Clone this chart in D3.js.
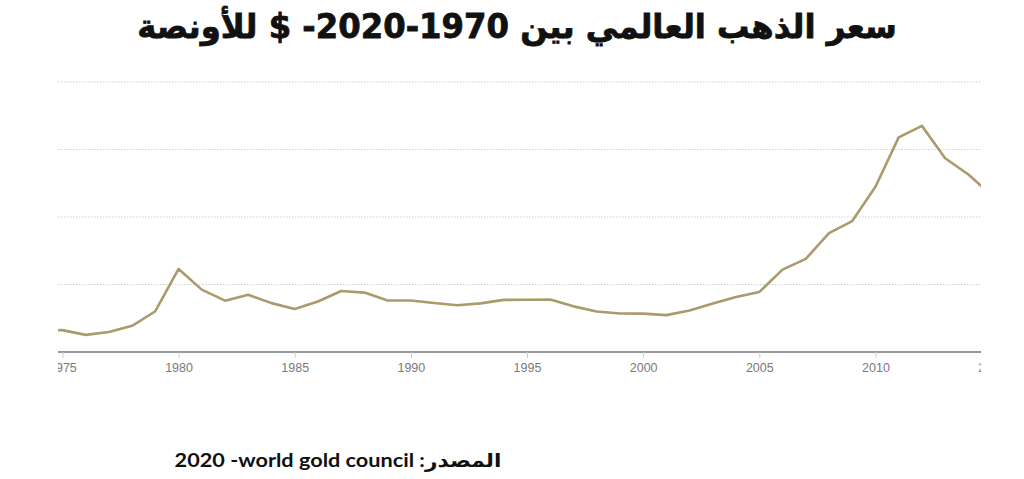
<!DOCTYPE html>
<html><head><meta charset="utf-8">
<script src="https://cdn.jsdelivr.net/npm/d3@7/dist/d3.min.js"></script>
<style>
html,body{margin:0;padding:0;background:#fff;}
svg{display:block;}
</style></head>
<body>
<svg id="chart" width="1024" height="479"></svg>
<script>
const titleText = "سعر الذهب العالمي بين 1970\u200F-2020\u200F-  $ للأونصة";
const sourceText = "المصدر: world gold council\u200F- 2020";
const years = [1974,1975,1976,1977,1978,1979,1980,1981,1982,1983,1984,1985,1986,1987,1988,1989,1990,1991,1992,1993,1994,1995,1996,1997,1998,1999,2000,2001,2002,2003,2004,2005,2006,2007,2008,2009,2010,2011,2012,2013,2014,2015];
const prices = [159,162,127,148,194,302,615,462,380,424,362,318,374,452,440,381,381,363,346,360,386,387,388,338,300,285,284,273,308,360,408,445,610,690,880,970,1224,1590,1675,1435,1315,1160];
const tickYears = [1975,1980,1985,1990,1995,2000,2005,2010,2015];
const gridValues = [500,1000,1500,2000];

const svg = d3.select("#chart");
const left = 58, right = 981, baseY = 352;
const x = d3.scaleLinear().domain([1974.81, 2014.5]).range([left, 980]);
const y = d3.scaleLinear().domain([0, 2000]).range([baseY, 82]);

const defs = svg.append("defs");
defs.append("clipPath").attr("id","clip").append("rect")
  .attr("x", left).attr("y", 0).attr("width", right-left).attr("height", 479);

const g = svg.append("g").attr("clip-path","url(#clip)");

// gridlines
g.append("g").selectAll("line").data(gridValues).join("line")
  .attr("x1", left).attr("x2", right)
  .attr("y1", d => y(d)).attr("y2", d => y(d))
  .attr("stroke", "#cfcfcf").attr("stroke-width", 1)
  .attr("stroke-dasharray", "1.5,1.5");

// x axis
const xAxis = d3.axisBottom(x).tickValues(tickYears).tickFormat(d3.format("d")).tickSize(6).tickSizeOuter(0);
const ax = g.append("g").attr("transform", `translate(0,${baseY})`).call(xAxis);
ax.select(".domain").attr("stroke", "#999").attr("stroke-width", 2)
  .attr("d", `M${left},0H${right}`);
ax.selectAll(".tick line").attr("stroke", "#ccc").attr("stroke-width", 1);
ax.selectAll(".tick text").attr("fill", "#7a7a7a")
  .style("font-family", "'Liberation Sans', Arial, sans-serif").style("font-size", "12.5px")
  .attr("y", 11);

// line
const line = d3.line().x((d,i) => x(years[i])).y(d => y(d));
g.append("path").datum(prices)
  .attr("d", line).attr("fill", "none")
  .attr("stroke", "#ab9a6c").attr("stroke-width", 2.6)
  .attr("stroke-linejoin", "round");

// title
const t = svg.append("text")
  .attr("x", 517).attr("y", 38)
  .attr("text-anchor", "middle").attr("direction", "rtl")
  .style("font-family", "'DejaVu Sans', sans-serif").style("font-weight", "bold")
  .style("font-size", "33px").attr("fill", "#111")
  .attr("stroke", "#111").attr("stroke-width", 0.8)
  .text(titleText);
const tw = t.node().getComputedTextLength();
const sx = 760 / tw;
t.attr("transform", `translate(517,0) scale(${sx},1) translate(-517,0)`);

// source
const s = svg.append("text")
  .attr("x", 338).attr("y", 467)
  .attr("text-anchor", "middle").attr("direction", "rtl")
  .style("font-family", "Lato, 'DejaVu Sans', sans-serif").style("font-weight", "bold")
  .style("font-size", "19px").attr("fill", "#111")
  .text(sourceText);
const sw = s.node().getComputedTextLength();
s.attr("transform", `translate(338,0) scale(${327/sw},1) translate(-338,0)`);
</script>
</body></html>
